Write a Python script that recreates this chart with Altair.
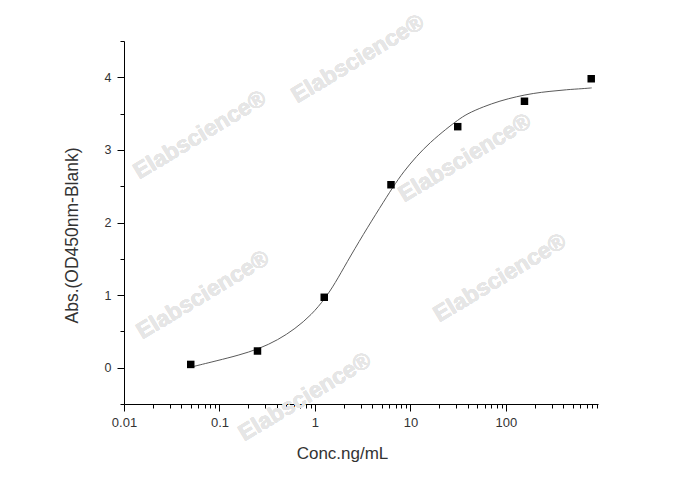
import altair as alt
import pandas as pd

# measured standards
conc = [0.05, 0.25, 1.25, 6.25, 31.25, 156.25, 781.25]
absorb = [0.045, 0.23, 0.97, 2.52, 3.32, 3.67, 3.98]

# fitted curve
curve_x = [0.0512, 0.0965, 0.156, 0.259, 0.410, 0.617, 0.923, 1.27, 1.62, 2.15,
           3.20, 4.79, 6.60, 8.41, 11.6, 16.0, 23.9, 31.4, 38.8, 57.9,
           86.5, 129, 193, 289, 432, 645, 790]
curve_y = [0.011, 0.100, 0.169, 0.259, 0.383, 0.534, 0.730, 0.950, 1.160, 1.449,
           1.835, 2.206, 2.495, 2.695, 2.915, 3.101, 3.294, 3.411, 3.495, 3.595,
           3.675, 3.734, 3.780, 3.807, 3.830, 3.844, 3.854]

x_tick_values = [0.01, 0.02, 0.03, 0.04, 0.05, 0.06, 0.07, 0.08, 0.09,
                 0.1, 0.2, 0.3, 0.4, 0.5, 0.6, 0.7, 0.8, 0.9,
                 1, 2, 3, 4, 5, 6, 7, 8, 9,
                 10, 20, 30, 40, 50, 60, 70, 80, 90,
                 100, 200, 300, 400, 500, 600, 700, 800, 900]
y_tick_values = [-0.5, 0, 0.5, 1, 1.5, 2, 2.5, 3, 3.5, 4, 4.5]

watermark_text = "Elabscience®"

pts = pd.DataFrame({"conc": conc, "abs": absorb})
crv = pd.DataFrame({"conc": curve_x, "abs": curve_y})

FONT = "Liberation Sans"
xmajor = "abs(log(datum.value)/LN10 - round(log(datum.value)/LN10)) < 0.001"
ymajor = "datum.value % 1 == 0"

xscale = alt.Scale(type="log", domain=[0.01, 920], nice=False)
yscale = alt.Scale(domain=[-0.5, 4.5], nice=False, zero=False)

xaxis = alt.Axis(
    values=x_tick_values,
    labelExpr=f"({xmajor}) ? format(datum.value, '~g') : ''",
    tickSize={"condition": {"test": xmajor, "value": 7}, "value": 4},
    labelPadding=5, labelFlush=False, labelOverlap=False,
    grid=False, domainColor="black", tickColor="black", tickWidth=1, domainWidth=1,
    labelFont=FONT, labelFontSize=13, labelColor="#333333",
    title="Conc.ng/mL", titleFont=FONT, titleFontSize=17, titleFontWeight="normal",
    titleColor="#333333", titleX=218, titleY=41,
)
yaxis = alt.Axis(
    values=y_tick_values,
    labelExpr=f"({ymajor}) ? format(datum.value, 'd') : ''",
    tickSize={"condition": {"test": ymajor, "value": 7}, "value": 4},
    labelPadding=6, labelOverlap=False,
    grid=False, domainColor="black", tickColor="black", tickWidth=1, domainWidth=1,
    labelFont=FONT, labelFontSize=12.5, labelColor="#333333",
    title="Abs.(OD450nm-Blank)", titleFont=FONT, titleFontSize=17.5, titleFontWeight="normal",
    titleColor="#333333", titleX=-43, titleY=194,
)

wm_pos = [(234, 18), (76, 94), (341, 117), (79, 254), (376, 237), (181, 356)]
wm_layers = [
    alt.Chart(pts).mark_text(
        text=watermark_text, angle=329, font=FONT, fontSize=23, fontWeight="bold",
        color="#e6e6e6", align="center", baseline="middle",
    ).encode(x=alt.value(px), y=alt.value(py))
    for px, py in wm_pos
]

line = alt.Chart(crv).mark_line(color="#5a5a5a", strokeWidth=1, interpolate="basis").encode(
    x=alt.X("conc:Q", scale=xscale, axis=xaxis),
    y=alt.Y("abs:Q", scale=yscale, axis=yaxis),
)
points = alt.Chart(pts).mark_square(size=56, color="black", opacity=1).encode(
    x=alt.X("conc:Q", scale=xscale, axis=xaxis),
    y=alt.Y("abs:Q", scale=yscale, axis=yaxis),
)

chart = alt.layer(*wm_layers, line, points).properties(
    width=474, height=363,
    autosize=alt.AutoSizeParams(type="none"),
    padding={"left": 116, "top": 33, "right": 12, "bottom": 60},
    background="white",
).configure_view(stroke=None)

chart.save("out.html", embed_options={"renderer": "svg", "actions": False})
